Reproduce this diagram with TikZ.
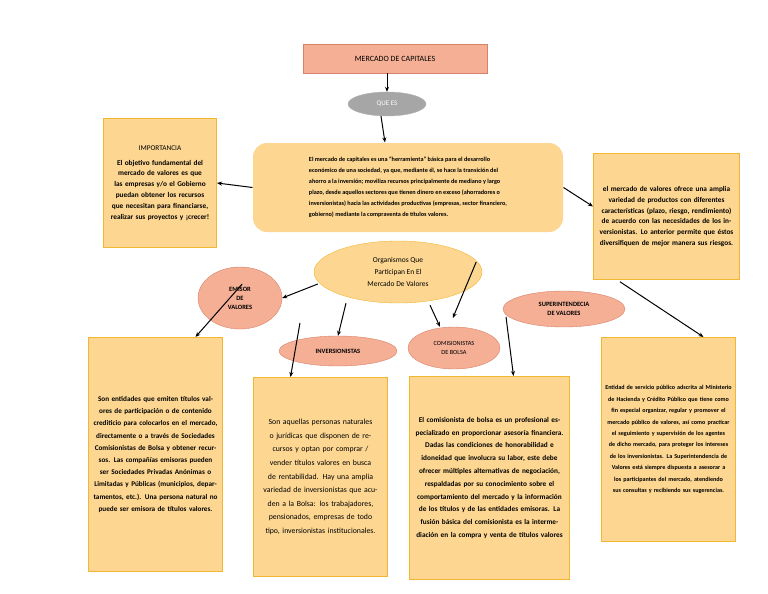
\documentclass[tikz,border=0pt]{standalone}
\usepackage{fontspec}
\setmainfont{Carlito}
\usetikzlibrary{shapes.geometric,arrows.meta}
\definecolor{boxf}{HTML}{FDD792}
\definecolor{boxd}{HTML}{F2B632}
\definecolor{salm}{HTML}{F4AF95}
\definecolor{salmd}{HTML}{D9826A}
\tikzset{
 txtbox/.style={draw=boxd,line width=1pt,fill=boxf,align=center,font=\bfseries\fontsize{7.3}{10.8}\selectfont,inner sep=3pt},
 oval/.style={ellipse,draw=salmd,fill=salm,align=center,font=\bfseries\fontsize{6.5}{9}\selectfont,inner sep=0pt},
 arr/.style={-{Stealth[length=5pt,width=4pt]},line width=1pt}
}
\begin{document}
\begin{tikzpicture}[x=1pt,y=-1pt]
\useasboundingbox[fill=white] (0,0) rectangle (768,594);
\node[draw=salmd,fill=salm,minimum width=184pt,minimum height=29pt,font=\fontsize{8}{10}\selectfont] (title) at (395,58.5) {MERCADO DE CAPITALES};
\node[ellipse,fill=gray!70,draw=gray!60,minimum width=78pt,minimum height=24pt,text=white,font=\fontsize{7}{9}\selectfont] (que) at (387,104) {QUE ES};
\node[txtbox,rounded corners=14pt,draw=none,align=left,minimum width=310pt,minimum height=89pt,font=\bfseries\fontsize{6.2}{11}\selectfont] (central) at (408,187.5) {El mercado de capitales es una ``herramienta'' básica para el desarrollo\\económico de una sociedad, ya que, mediante él, se hace la transición del\\ahorro a la inversión; moviliza recursos principalmente de mediano y largo\\plazo, desde aquellos sectores que tienen dinero en exceso (ahorradores o\\inversionistas) hacia las actividades productivas (empresas, sector financiero,\\gobierno) mediante la compraventa de títulos valores.};
\node[txtbox,minimum width=113pt,minimum height=129pt,anchor=north west,text width=105pt] (imp) at (103,118) {{\mdseries IMPORTANCIA}\\[4pt]El objetivo fundamental del mercado de valores es que las empresas y/o el Gobierno puedan obtener los recursos que necesitan para financiarse, realizar sus proyectos y ¡crecer!};
\node[txtbox,minimum width=146pt,minimum height=126pt,anchor=north west,text width=138pt] (der) at (593,153) {el mercado de valores ofrece una amplia variedad de productos con diferentes características (plazo, riesgo, rendimiento) de acuerdo con las necesidades de los inversionistas. Lo anterior permite que éstos diversifiquen de mejor manera sus riesgos.};
\node[ellipse,draw=boxd,fill=boxf,minimum width=168pt,minimum height=62pt,align=center,font=\fontsize{7.5}{12}\selectfont] (org) at (398,272) {Organismos Que\\Participan En El\\Mercado De Valores};
\node[oval,minimum width=84pt,minimum height=62pt] (emi) at (240,298) {EMISOR\\DE\\VALORES};
\node[oval,minimum width=118pt,minimum height=30pt] (inv) at (338,351) {INVERSIONISTAS};
\node[oval,minimum width=92pt,minimum height=42pt,font=\fontsize{6.3}{9}\selectfont] (com) at (454,348) {COMISIONISTAS\\DE BOLSA};
\node[oval,minimum width=122pt,minimum height=36pt] (sup) at (564,309) {SUPERINTENDECIA\\DE VALORES};
\node[txtbox,minimum width=134pt,minimum height=234pt,anchor=north west,text width=126pt,font=\bfseries\fontsize{7.2}{12.2}\selectfont] (bemi) at (88,337) {Son entidades que emiten títulos valores de participación o de contenido crediticio para colocarlos en el mercado, directamente o a través de Sociedades Comisionistas de Bolsa y obtener recursos. Las compañías emisoras pueden ser Sociedades Privadas Anónimas o Limitadas y Públicas (municipios, departamentos, etc.). Una persona natural no puede ser emisora de títulos valores.};
\node[txtbox,minimum width=134pt,minimum height=199pt,anchor=north west,text width=126pt,font=\fontsize{7.8}{13.6}\selectfont] (binv) at (253,377) {Son aquellas personas naturales o jurídicas que disponen de recursos y optan por comprar / vender títulos valores en busca de rentabilidad. Hay una amplia variedad de inversionistas que acuden a la Bolsa: los trabajadores, pensionados, empresas de todo tipo, inversionistas institucionales.};
\node[txtbox,minimum width=160pt,minimum height=203pt,anchor=north west,text width=152pt,font=\bfseries\fontsize{7.3}{12.8}\selectfont] (bcom) at (409,376) {El comisionista de bolsa es un profesional especializado en proporcionar asesoría financiera. Dadas las condiciones de honorabilidad e idoneidad que involucra su labor, este debe ofrecer múltiples alternativas de negociación, respaldadas por su conocimiento sobre el comportamiento del mercado y la información de los títulos y de las entidades emisoras. La fusión básica del comisionista es la intermediación en la compra y venta de títulos valores};
\node[txtbox,minimum width=134pt,minimum height=204pt,anchor=north west,text width=128pt,font=\bfseries\fontsize{6.1}{11.4}\selectfont] (bsup) at (601,337) {Entidad de servicio público adscrita al Ministerio de Hacienda y Crédito Público que tiene como fin especial organizar, regular y promover el mercado público de valores, así como practicar el seguimiento y supervisión de los agentes de dicho mercado, para proteger los intereses de los inversionistas. La Superintendencia de Valores está siempre dispuesta a asesorar a los participantes del mercado, atendiendo sus consultas y recibiendo sus sugerencias.};
\draw[arr] (title.south -| que.north) -- (que.north);
\draw[arr] (que.south) ++(-6,0) -- ([xshift=-23pt]central.north);
\draw[arr] (central.west) -- (imp.east);
\draw[arr] (central.east) -- ([yshift=10pt]der.west);
\draw[arr] (org.west) ++(4,12) -- (emi.east);
\draw[arr] ([xshift=-52pt]org.south) -- (inv.north);
\draw[arr] ([xshift=32pt,yshift=-2pt]org.south) -- ([xshift=-14pt]com.north);
\draw[arr] ([xshift=-6pt,yshift=10pt]org.east) -- ([xshift=-50pt,yshift=-9pt]sup.west);
\draw[arr] ([xshift=-40pt,yshift=14pt]emi.east) -- ([xshift=40pt]bemi.north);
\draw[arr] ([xshift=-38pt,yshift=13pt]inv.north) -- ([xshift=-30pt]binv.north);
\draw[arr] ([xshift=52pt,yshift=10pt]com.north) -- ([xshift=24pt]bcom.north);
\draw[arr] ([xshift=56pt,yshift=9pt]sup.north) -- ([xshift=35pt]bsup.north);
\end{tikzpicture}
\end{document}
